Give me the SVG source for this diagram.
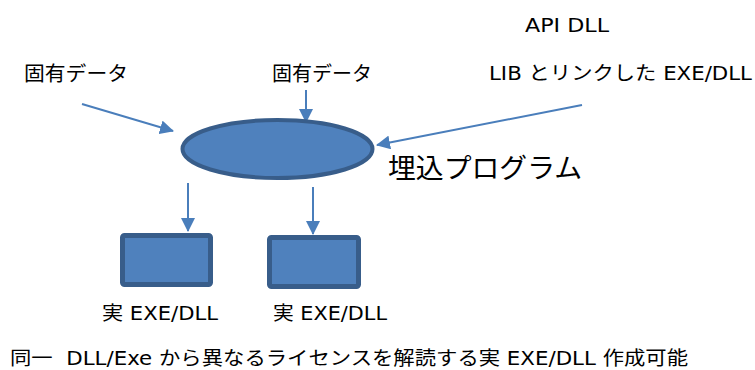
<svg xmlns="http://www.w3.org/2000/svg" width="755" height="370" viewBox="0 0 755 370">
  <style>
    text { font-family: "DejaVu Sans", "Noto Sans CJK JP", sans-serif; fill: #000; }
    .shape { fill: #4F81BD; stroke: #385D8A; }
    .conn { stroke: #4A7EBB; stroke-width: 2; fill: none; marker-end: url(#arrow); }
  </style>
  <defs>
    <marker id="arrow" markerUnits="userSpaceOnUse" markerWidth="14" markerHeight="14" viewBox="0 0 14 14" refX="13" refY="7" orient="auto">
      <path d="M0,0 L14,7 L0,14 Z" fill="#4A7EBB"/>
    </marker>
  </defs>
  <rect width="755" height="370" fill="#fff"/>

  <g id="connectors">
    <line class="conn" x1="82" y1="104" x2="173" y2="131"/>
    <line class="conn" x1="306" y1="90" x2="306" y2="122"/>
    <line class="conn" x1="582" y1="105" x2="377" y2="145"/>
    <line class="conn" x1="188" y1="183" x2="188" y2="231"/>
    <line class="conn" x1="313" y1="187" x2="313" y2="234"/>
  </g>

  <g id="embedded-program">
    <ellipse class="shape" cx="277.5" cy="149" rx="95" ry="29" stroke-width="4"/>
    <text x="388" y="178" font-size="27" textLength="194" lengthAdjust="spacingAndGlyphs">埋込プログラム</text>
  </g>

  <g id="data-left">
    <text x="24" y="81" font-size="20" textLength="104" lengthAdjust="spacingAndGlyphs">固有データ</text>
  </g>

  <g id="data-top">
    <text x="272" y="81" font-size="20" textLength="100" lengthAdjust="spacingAndGlyphs">固有データ</text>
  </g>

  <g id="api-dll">
    <text x="525" y="32" font-size="19" textLength="84" lengthAdjust="spacingAndGlyphs">API DLL</text>
    <text x="489" y="80" font-size="19" textLength="263" lengthAdjust="spacingAndGlyphs">LIB とリンクした EXE/DLL</text>
  </g>

  <g id="real-exe-1">
    <rect class="shape" x="122.5" y="235.5" width="88" height="49" rx="2" stroke-width="5"/>
    <text x="102" y="320" font-size="19" textLength="116" lengthAdjust="spacingAndGlyphs">実 EXE/DLL</text>
  </g>

  <g id="real-exe-2">
    <rect class="shape" x="269.5" y="237.5" width="89" height="49" rx="2" stroke-width="5"/>
    <text x="273" y="320" font-size="19" textLength="114" lengthAdjust="spacingAndGlyphs">実 EXE/DLL</text>
  </g>

  <text x="10" y="365" font-size="19" textLength="678" lengthAdjust="spacingAndGlyphs">同一&#160; DLL/Exe から異なるライセンスを解読する実 EXE/DLL 作成可能</text>
</svg>
